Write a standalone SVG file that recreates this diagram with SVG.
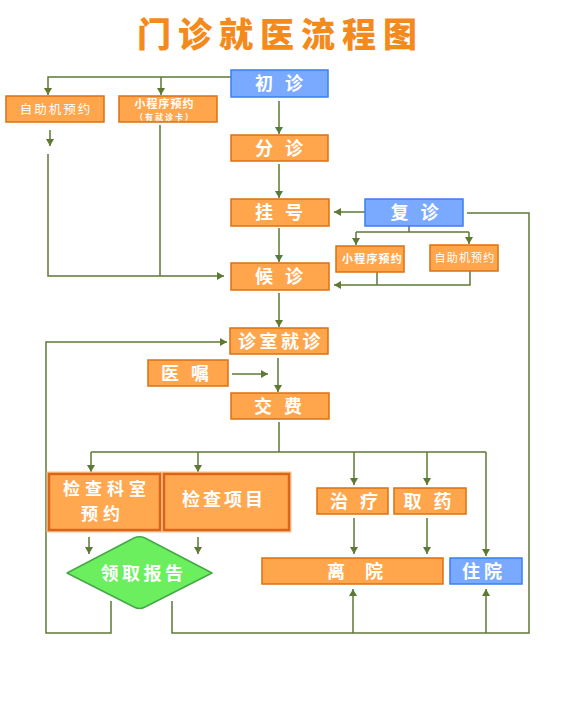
<svg xmlns="http://www.w3.org/2000/svg" width="578" height="709" viewBox="0 0 578 709">
<defs>
<style>
.box{fill:#FFA64D;stroke:#DD7011;stroke-width:1.5}
.big{fill:#FFA850;stroke:#D9651A;stroke-width:2.5}
.glow{fill:none;stroke:#F9C08A;stroke-width:5}
.blue{fill:#7AAAFF;stroke:#3B7FF0;stroke-width:1.5}
.t{font-family:"Noto Sans CJK SC","Noto Sans CJK JP",sans-serif;font-weight:bold;fill:#fff;font-size:18px;text-anchor:middle}
.s{font-family:"Noto Sans CJK SC","Noto Sans CJK JP",sans-serif;fill:#fff;text-anchor:middle}
.w{stroke:#5D7A35;stroke-width:1.5;fill:none}
.a{marker-end:url(#arr)}
</style>
<marker id="arr" markerUnits="userSpaceOnUse" markerWidth="8" markerHeight="8" refX="7" refY="4" orient="auto">
<path d="M0,0 L7,4 L0,8 z" fill="#5D7A35"/>
</marker>
</defs>
<rect width="578" height="709" fill="#fff"/>
<text x="137" y="47" style="font-family:'Noto Sans CJK SC','Noto Sans CJK JP',sans-serif;font-weight:900;font-size:34px;letter-spacing:7px;fill:#F58A1C">门诊就医流程图</text>

<g id="connectors">
<path class="w a" d="M231,77 H48 V95"/>
<path class="w a" d="M161,77 V95"/>
<path class="w a" d="M279,101 V134"/>
<path class="w a" d="M50,130 V146"/>
<path class="w a" d="M48,154 V276 H224"/>
<path class="w" d="M160,125 V276"/>
<path class="w a" d="M279,164 V198"/>
<path class="w a" d="M365,212 H334"/>
<path class="w" d="M467,213 H529 V633 H172 V601"/>
<path class="w a" d="M353,633 V589"/>
<path class="w a" d="M486,633 V589"/>
<path class="w a" d="M111,601 V633 H46 V342 H227"/>
<path class="w" d="M409,226 V232 M356,232 H469"/>
<path class="w a" d="M356,232 V245"/>
<path class="w a" d="M469,232 V244"/>
<path class="w" d="M377,272 V285"/>
<path class="w a" d="M470,271 V285 H334"/>
<path class="w a" d="M279,228 V262"/>
<path class="w a" d="M279,293 V327"/>
<path class="w a" d="M278,358 V392"/>
<path class="w a" d="M232,374 H268"/>
<path class="w" d="M279,422 V452 M91,452 H486"/>
<path class="w a" d="M91,452 V472"/>
<path class="w a" d="M198,452 V472"/>
<path class="w a" d="M354,452 V485"/>
<path class="w a" d="M427,452 V485"/>
<path class="w a" d="M486,452 V556"/>
<path class="w a" d="M89,537 V554"/>
<path class="w a" d="M198,537 V554"/>
<path class="w a" d="M354,518 V554"/>
<path class="w a" d="M427,518 V554"/>
</g>

<g id="n-chuzhen"><rect class="blue" x="231" y="70" width="97" height="27"/><text class="t" x="285" y="90" style="letter-spacing:12px">初诊</text></g>
<g id="n-zizhu1"><rect class="box" x="6" y="96" width="98" height="26"/><text class="s" x="56" y="113.5" style="font-size:12.5px;letter-spacing:2px">自助机预约</text></g>
<g id="n-xcx1"><rect class="box" x="119" y="96" width="98" height="26"/><text class="s" x="164.5" y="107.5" style="font-size:11px;font-weight:bold;letter-spacing:1px">小程序预约</text><text class="s" x="165" y="119.5" style="font-size:8px;font-weight:bold;letter-spacing:2px">（有就诊卡）</text></g>
<g id="n-fenzhen"><rect class="box" x="231" y="135" width="97" height="26"/><text class="t" x="285" y="155" style="letter-spacing:12px">分诊</text></g>
<g id="n-guahao"><rect class="box" x="231" y="199" width="98" height="27"/><text class="t" x="285" y="219" style="letter-spacing:12px">挂号</text></g>
<g id="n-fuzhen"><rect class="blue" x="365" y="199" width="98" height="27"/><text class="t" x="420.5" y="219" style="letter-spacing:12px">复诊</text></g>
<g id="n-xcx2"><rect class="box" x="336" y="246" width="68" height="26"/><text class="s" x="372.5" y="263" style="font-size:11px;font-weight:bold;letter-spacing:1.2px">小程序预约</text></g>
<g id="n-zizhu2"><rect class="box" x="430" y="245" width="68" height="26"/><text class="s" x="465" y="262" style="font-size:11px;letter-spacing:1.2px">自助机预约</text></g>
<g id="n-houzhen"><rect class="box" x="231" y="263" width="98" height="27"/><text class="t" x="285" y="283" style="letter-spacing:12px">候诊</text></g>
<g id="n-zhenshi"><rect class="box" x="230" y="328" width="98" height="26"/><text class="t" x="281" y="348" style="letter-spacing:3.5px">诊室就诊</text></g>
<g id="n-yizhu"><rect class="box" x="148" y="360" width="80" height="26"/><text class="t" x="191" y="380" style="letter-spacing:12px">医嘱</text></g>
<g id="n-jiaofei"><rect class="box" x="231" y="393" width="98" height="26"/><text class="t" x="284" y="413" style="letter-spacing:12px">交费</text></g>
<g id="n-jcks"><rect class="glow" x="49" y="474" width="111" height="56"/><rect class="big" x="49" y="474" width="111" height="56"/><text class="t" x="107" y="495" style="font-size:17px;letter-spacing:5px">检查科室</text><text class="t" x="103" y="520" style="font-size:17px;letter-spacing:5px">预约</text></g>
<g id="n-jcxm"><rect class="glow" x="164" y="474" width="125" height="56"/><rect class="big" x="164" y="474" width="125" height="56"/><text class="t" x="224" y="506" style="letter-spacing:3px">检查项目</text></g>
<g id="n-lingqu"><path d="M67,573 L134,538 Q139.5,535.5 145,538 L212,573 L145,607 Q139.5,610 134,607 Z" fill="#6BEF5F" stroke="#45A845" stroke-width="1.5" stroke-linejoin="round"/><text class="t" x="143.5" y="580" style="letter-spacing:3.5px">领取报告</text></g>
<g id="n-zhiliao"><rect class="box" x="317" y="488" width="71" height="26"/><text class="t" x="360" y="508" style="letter-spacing:12px">治疗</text></g>
<g id="n-quyao"><rect class="box" x="394" y="488" width="72" height="26"/><text class="t" x="433.5" y="508" style="letter-spacing:12px">取药</text></g>
<g id="n-liyuan"><rect class="box" x="262" y="558" width="181" height="26"/><text class="t" x="365" y="578" style="letter-spacing:20px">离院</text></g>
<g id="n-zhuyuan"><rect class="blue" x="450" y="558" width="72" height="26"/><text class="t" x="484" y="578" style="letter-spacing:4px">住院</text></g>
</svg>
